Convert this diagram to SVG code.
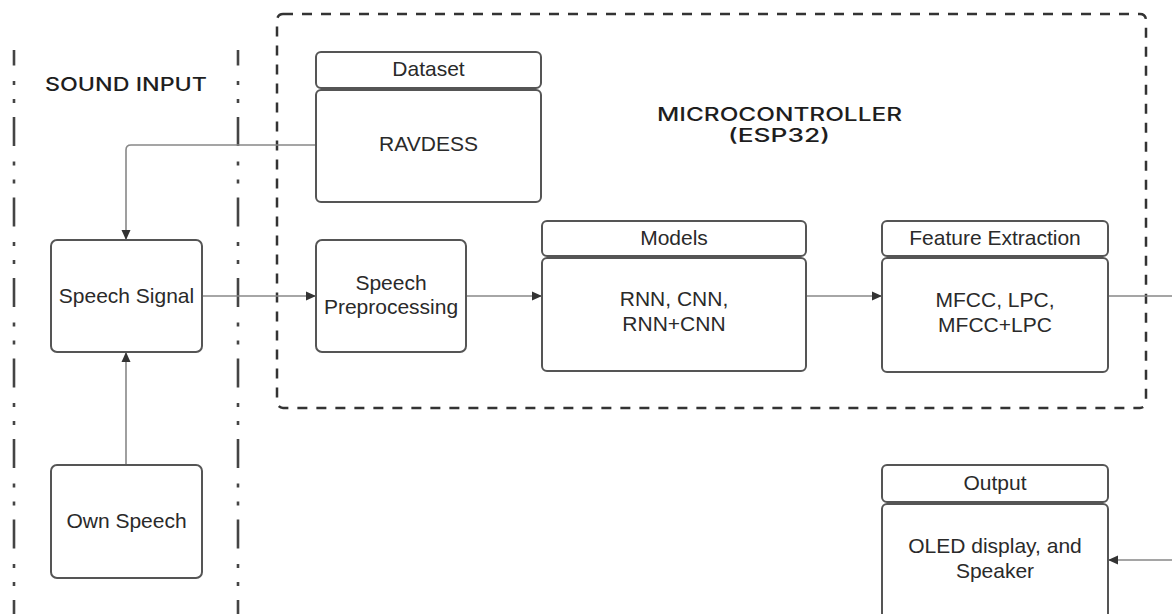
<svg xmlns="http://www.w3.org/2000/svg" width="1172" height="614" viewBox="0 0 1172 614">
<style>
.bg{fill:#ffffff}
.box{fill:#ffffff;stroke:#555555;stroke-width:2}
.t{font-family:"Liberation Sans",Arial,sans-serif;font-size:21px;fill:#2a2a2a;text-anchor:middle}
.s{font-size:21px}
.h{font-family:Inter,"DejaVu Sans",sans-serif;font-size:18.5px;font-weight:500;fill:#1e1e1e}
.dd{stroke:#444444;stroke-width:2.6;fill:none;stroke-dasharray:29 15.5 4 14 4 14;stroke-dashoffset:13.5}
.cont{fill:none;stroke:#333333;stroke-width:2.5;stroke-dasharray:10 9}
.c{fill:none;stroke:#888888;stroke-width:1.6}
</style>
<defs>
<marker id="arr" viewBox="0 0 10 10" refX="10" refY="5" markerWidth="11" markerHeight="10" markerUnits="userSpaceOnUse" orient="auto">
<path d="M0,0.5 L10,5 L0,9.5 Z" fill="#333333"/>
</marker>
</defs>
<rect class="bg" x="0" y="0" width="1172" height="614"/>

<g id="lanes">
<line class="dd" x1="14" y1="50" x2="14" y2="620"/>
<line class="dd" x1="238" y1="50" x2="238" y2="620"/>
<text class="h" x="45" y="91" font-size="19.5" textLength="162" lengthAdjust="spacingAndGlyphs">SOUND INPUT</text>
</g>

<g id="microcontroller">
<rect class="cont" x="277" y="14" width="869" height="394" rx="6"/>
<text class="h" x="657" y="121" textLength="245" lengthAdjust="spacingAndGlyphs">MICROCONTROLLER</text>
<text class="h" x="728" y="142" textLength="102" lengthAdjust="spacingAndGlyphs">(ESP32)</text>
</g>

<g id="connectors">
<path class="c" d="M316,145 H131 Q126,145 126,150 V240" marker-end="url(#arr)"/>
<path class="c" d="M126,465 V352" marker-end="url(#arr)"/>
<path class="c" d="M202,296 H316" marker-end="url(#arr)"/>
<path class="c" d="M466,296 H542" marker-end="url(#arr)"/>
<path class="c" d="M806,296 H882" marker-end="url(#arr)"/>
<path class="c" d="M1108,296 H1190 V560 H1108" marker-end="url(#arr)"/>
</g>

<g id="dataset">
<rect class="box" x="316" y="52" width="225" height="36" rx="5"/>
<rect class="box" x="316" y="90" width="225" height="112" rx="5"/>
<text class="t s" x="428.5" y="76">Dataset</text>
<text class="t" x="428.5" y="151">RAVDESS</text>
</g>

<g id="speech-signal">
<rect class="box" x="51" y="240" width="151" height="112" rx="6"/>
<text class="t" x="126.5" y="303">Speech Signal</text>
</g>

<g id="own-speech">
<rect class="box" x="51" y="465" width="151" height="113" rx="6"/>
<text class="t" x="126.5" y="528">Own Speech</text>
</g>

<g id="speech-preprocessing">
<rect class="box" x="316" y="240" width="150" height="112" rx="6"/>
<text class="t" x="391" y="290">Speech</text>
<text class="t" x="391" y="314">Preprocessing</text>
</g>

<g id="models">
<rect class="box" x="542" y="221" width="264" height="35" rx="5"/>
<rect class="box" x="542" y="258" width="264" height="113" rx="5"/>
<text class="t s" x="674" y="245">Models</text>
<text class="t" x="674" y="306">RNN, CNN,</text>
<text class="t" x="674" y="331">RNN+CNN</text>
</g>

<g id="feature-extraction">
<rect class="box" x="882" y="221" width="226" height="35" rx="5"/>
<rect class="box" x="882" y="258" width="226" height="114" rx="5"/>
<text class="t s" x="995" y="245">Feature Extraction</text>
<text class="t" x="995" y="307">MFCC, LPC,</text>
<text class="t" x="995" y="332">MFCC+LPC</text>
</g>

<g id="output">
<rect class="box" x="882" y="465" width="226" height="37" rx="5"/>
<rect class="box" x="882" y="504" width="226" height="130" rx="5"/>
<text class="t s" x="995" y="490">Output</text>
<text class="t" x="995" y="553">OLED display, and</text>
<text class="t" x="995" y="578">Speaker</text>
</g>
</svg>
